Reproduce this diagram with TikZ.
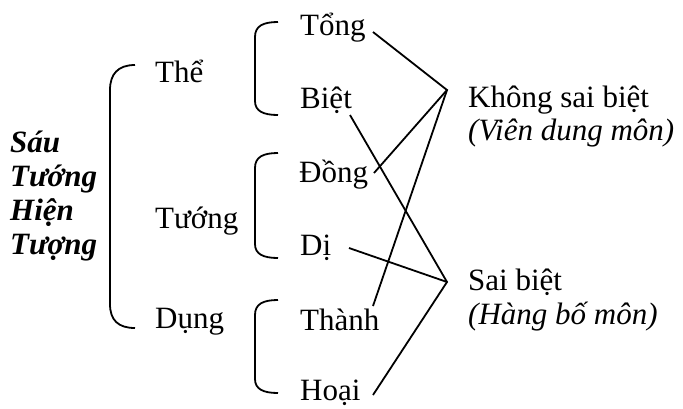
\documentclass[tikz,border=0pt]{standalone}
\usepackage{fontspec}
\setmainfont{Liberation Serif}
\begin{document}
\begin{tikzpicture}[x=1pt,y=-1pt,
  every node/.style={inner sep=0pt, anchor=base west, font=\fontsize{31}{34}\selectfont},
  title/.style={font=\fontsize{31}{34}\selectfont\bfseries\itshape},
  note/.style={font=\fontsize{31}{34}\selectfont\itshape},
  link/.style={line width=1.8pt},
  brak/.style={line width=1.8pt}]
\useasboundingbox (0,0) rectangle (683,408);
% left title
\node[title] (sau) at (10,152) {Sáu};
\node[title] (tuongA) at (10,186) {Tướng};
\node[title] (hien) at (10,220) {Hiện};
\node[title] (tuongB) at (10,254) {Tượng};
% middle level
\node (the) at (155,82) {Thể};
\node (tuong) at (155,228) {Tướng};
\node (dung) at (155,328) {Dụng};
% leaves
\node (tong) at (300,35) {Tổng};
\node (biet) at (300,108) {Biệt};
\node (dong) at (299,182) {Đồng};
\node (di) at (300,255) {Dị};
\node (thanh) at (300,330) {Thành};
\node (hoai) at (300,400) {Hoại};
% right labels
\node (ksb) at (468,107) {Không sai biệt};
\node[note] (vdm) at (468,140) {(Viên dung môn)};
\node (sb) at (468,290) {Sai biệt};
\node[note] (hbm) at (468,324) {(Hàng bố môn)};
% brackets
\draw[brak] (135,65) .. controls (118,65) and (110,74) .. (110,90) -- (110,304) .. controls (110,320) and (118,328) .. (135,328);
\draw[brak] (278,22) .. controls (263,22) and (255,26) .. (255,37) -- (255,101) .. controls (255,111) and (263,115) .. (278,115);
\draw[brak] (278,153) .. controls (263,153) and (255,157) .. (255,168) -- (255,244) .. controls (255,254) and (263,258) .. (278,258);
\draw[brak] (278,300) .. controls (263,300) and (255,304) .. (255,315) -- (255,379) .. controls (255,389) and (263,393) .. (278,393);
% connector ends
\coordinate (h1) at (447,90);
\coordinate (h2) at (447,282);
\coordinate (tongR) at (373,32);
\coordinate (bietR) at (350,115);
\coordinate (dongR) at (374,173);
\coordinate (diR) at (349,248);
\coordinate (thanhR) at (373,306);
\coordinate (hoaiR) at (373,395);
\draw[link] (tongR) -- (h1) -- (dongR);
\draw[link] (thanhR) -- (h1);
\draw[link] (bietR) -- (h2) -- (hoaiR);
\draw[link] (diR) -- (h2);
\end{tikzpicture}
\end{document}
